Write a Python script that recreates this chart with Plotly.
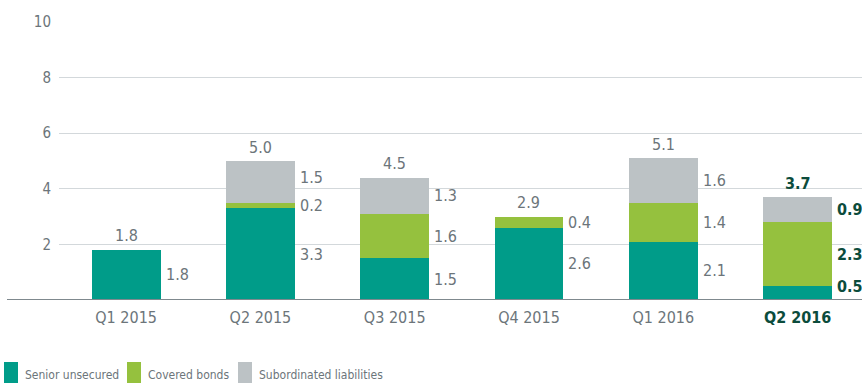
import plotly.graph_objects as go

# Quarterly issuance by instrument (EUR bn)
quarters = ["Q1 2015", "Q2 2015", "Q3 2015", "Q4 2015", "Q1 2016", "Q2 2016"]
senior_unsecured = [1.8, 3.3, 1.5, 2.6, 2.1, 0.5]
covered_bonds = [0.0, 0.2, 1.6, 0.4, 1.4, 2.3]
subordinated = [0.0, 1.5, 1.3, 0.0, 1.6, 0.9]
totals = [1.8, 5.0, 4.5, 2.9, 5.1, 3.7]
y_ticks = [2, 4, 6, 8, 10]

series_names = ["Senior unsecured", "Covered bonds", "Subordinated liabilities"]
series_values = [senior_unsecured, covered_bonds, subordinated]
series_colors = ["#009c89", "#95c13e", "#bcc2c5"]

FONT = "DejaVu Sans Condensed, Liberation Sans Narrow, sans-serif"
TEXT_GRAY = "#6c757a"
HIGHLIGHT = "#0c4c3c"

W, H = 862, 383
ML, MR, MT, MB = 59, 0, 22, 83
BAR_W = 0.512
X_MAX = 5.48

fig = go.Figure()
for name, vals, col in zip(series_names, series_values, series_colors):
    fig.add_trace(go.Bar(
        x=list(range(len(quarters))), y=vals, name=name,
        marker=dict(color=col, line=dict(width=0)),
        width=BAR_W, showlegend=False, hoverinfo="skip",
    ))

last = len(quarters) - 1
annotations = []

# segment labels to the right of each bar, nudged apart where they crowd
for i in range(len(quarters)):
    hl = i == last
    base = 0.0
    items = []
    for vals in series_values:
        v = vals[i]
        if v > 0:
            items.append([max(base + v / 2, 0.5), v])
        base += v
    for k in range(1, len(items)):
        if items[k][0] - items[k - 1][0] < 1.0:
            items[k][0] = items[k - 1][0] + 1.0
    for yc, v in items:
        txt = f"{v:.1f}"
        annotations.append(dict(
            x=i + BAR_W / 2, y=yc, xref="x", yref="y", text=f"<b>{txt}</b>" if hl else txt,
            showarrow=False, xanchor="left", yanchor="middle", xshift=3,
            font=dict(family=FONT, size=16, color=HIGHLIGHT if hl else TEXT_GRAY),
        ))
    top = sum(vals[i] for vals in series_values)
    txt = f"{totals[i]:.1f}"
    annotations.append(dict(
        x=i, y=top, xref="x", yref="y", text=f"<b>{txt}</b>" if hl else txt,
        showarrow=False, xanchor="center", yanchor="middle", yshift=14,
        font=dict(family=FONT, size=16, color=HIGHLIGHT if hl else TEXT_GRAY),
    ))

plot_w = W - ML - MR
plot_h = H - MT - MB


def px_x(px):
    return (px - ML) / plot_w


def px_y(py):
    return (H - MB - py) / plot_h


shapes = [dict(
    type="line", xref="paper", yref="y", x0=px_x(7), x1=1, y0=0, y1=0,
    line=dict(color="#7f898e", width=2), layer="above",
)]

# legend row along the bottom edge
legend_pos = [(4, 23), (127, 146), (238, 257)]
for (sx, tx), name, col in zip(legend_pos, series_names, series_colors):
    shapes.append(dict(
        type="rect", xref="paper", yref="paper",
        x0=px_x(sx), x1=px_x(sx + 14), y0=px_y(384), y1=px_y(362),
        fillcolor=col, line=dict(width=0),
    ))
    annotations.append(dict(
        x=px_x(tx), y=px_y(375), xref="paper", yref="paper", text=name,
        showarrow=False, xanchor="left", yanchor="middle",
        font=dict(family=FONT, size=12, color=TEXT_GRAY),
    ))

tick_text = [
    f"<b><span style='color:{HIGHLIGHT}'>{q}</span></b>" if i == last else q
    for i, q in enumerate(quarters)
]

fig.update_layout(
    width=W, height=H, barmode="stack",
    margin=dict(l=ML, r=MR, t=MT, b=MB),
    paper_bgcolor="white", plot_bgcolor="white",
    font=dict(family=FONT, color=TEXT_GRAY),
    xaxis=dict(
        range=[-0.5, X_MAX], tickmode="array", tickvals=list(range(len(quarters))),
        ticktext=tick_text, showgrid=False, zeroline=False, showline=False,
        ticks="", ticklabelstandoff=6, tickfont=dict(family=FONT, size=16, color=TEXT_GRAY),
        fixedrange=True,
    ),
    yaxis=dict(
        range=[0, 10], tickmode="array", tickvals=y_ticks,
        showgrid=True, gridcolor="#d3d8db", gridwidth=1, zeroline=False,
        showline=False, ticks="", ticklabelstandoff=7,
        tickfont=dict(family=FONT, size=15, color=TEXT_GRAY), fixedrange=True,
    ),
    shapes=shapes, annotations=annotations, showlegend=False,
)

fig.write_html("out.html")
